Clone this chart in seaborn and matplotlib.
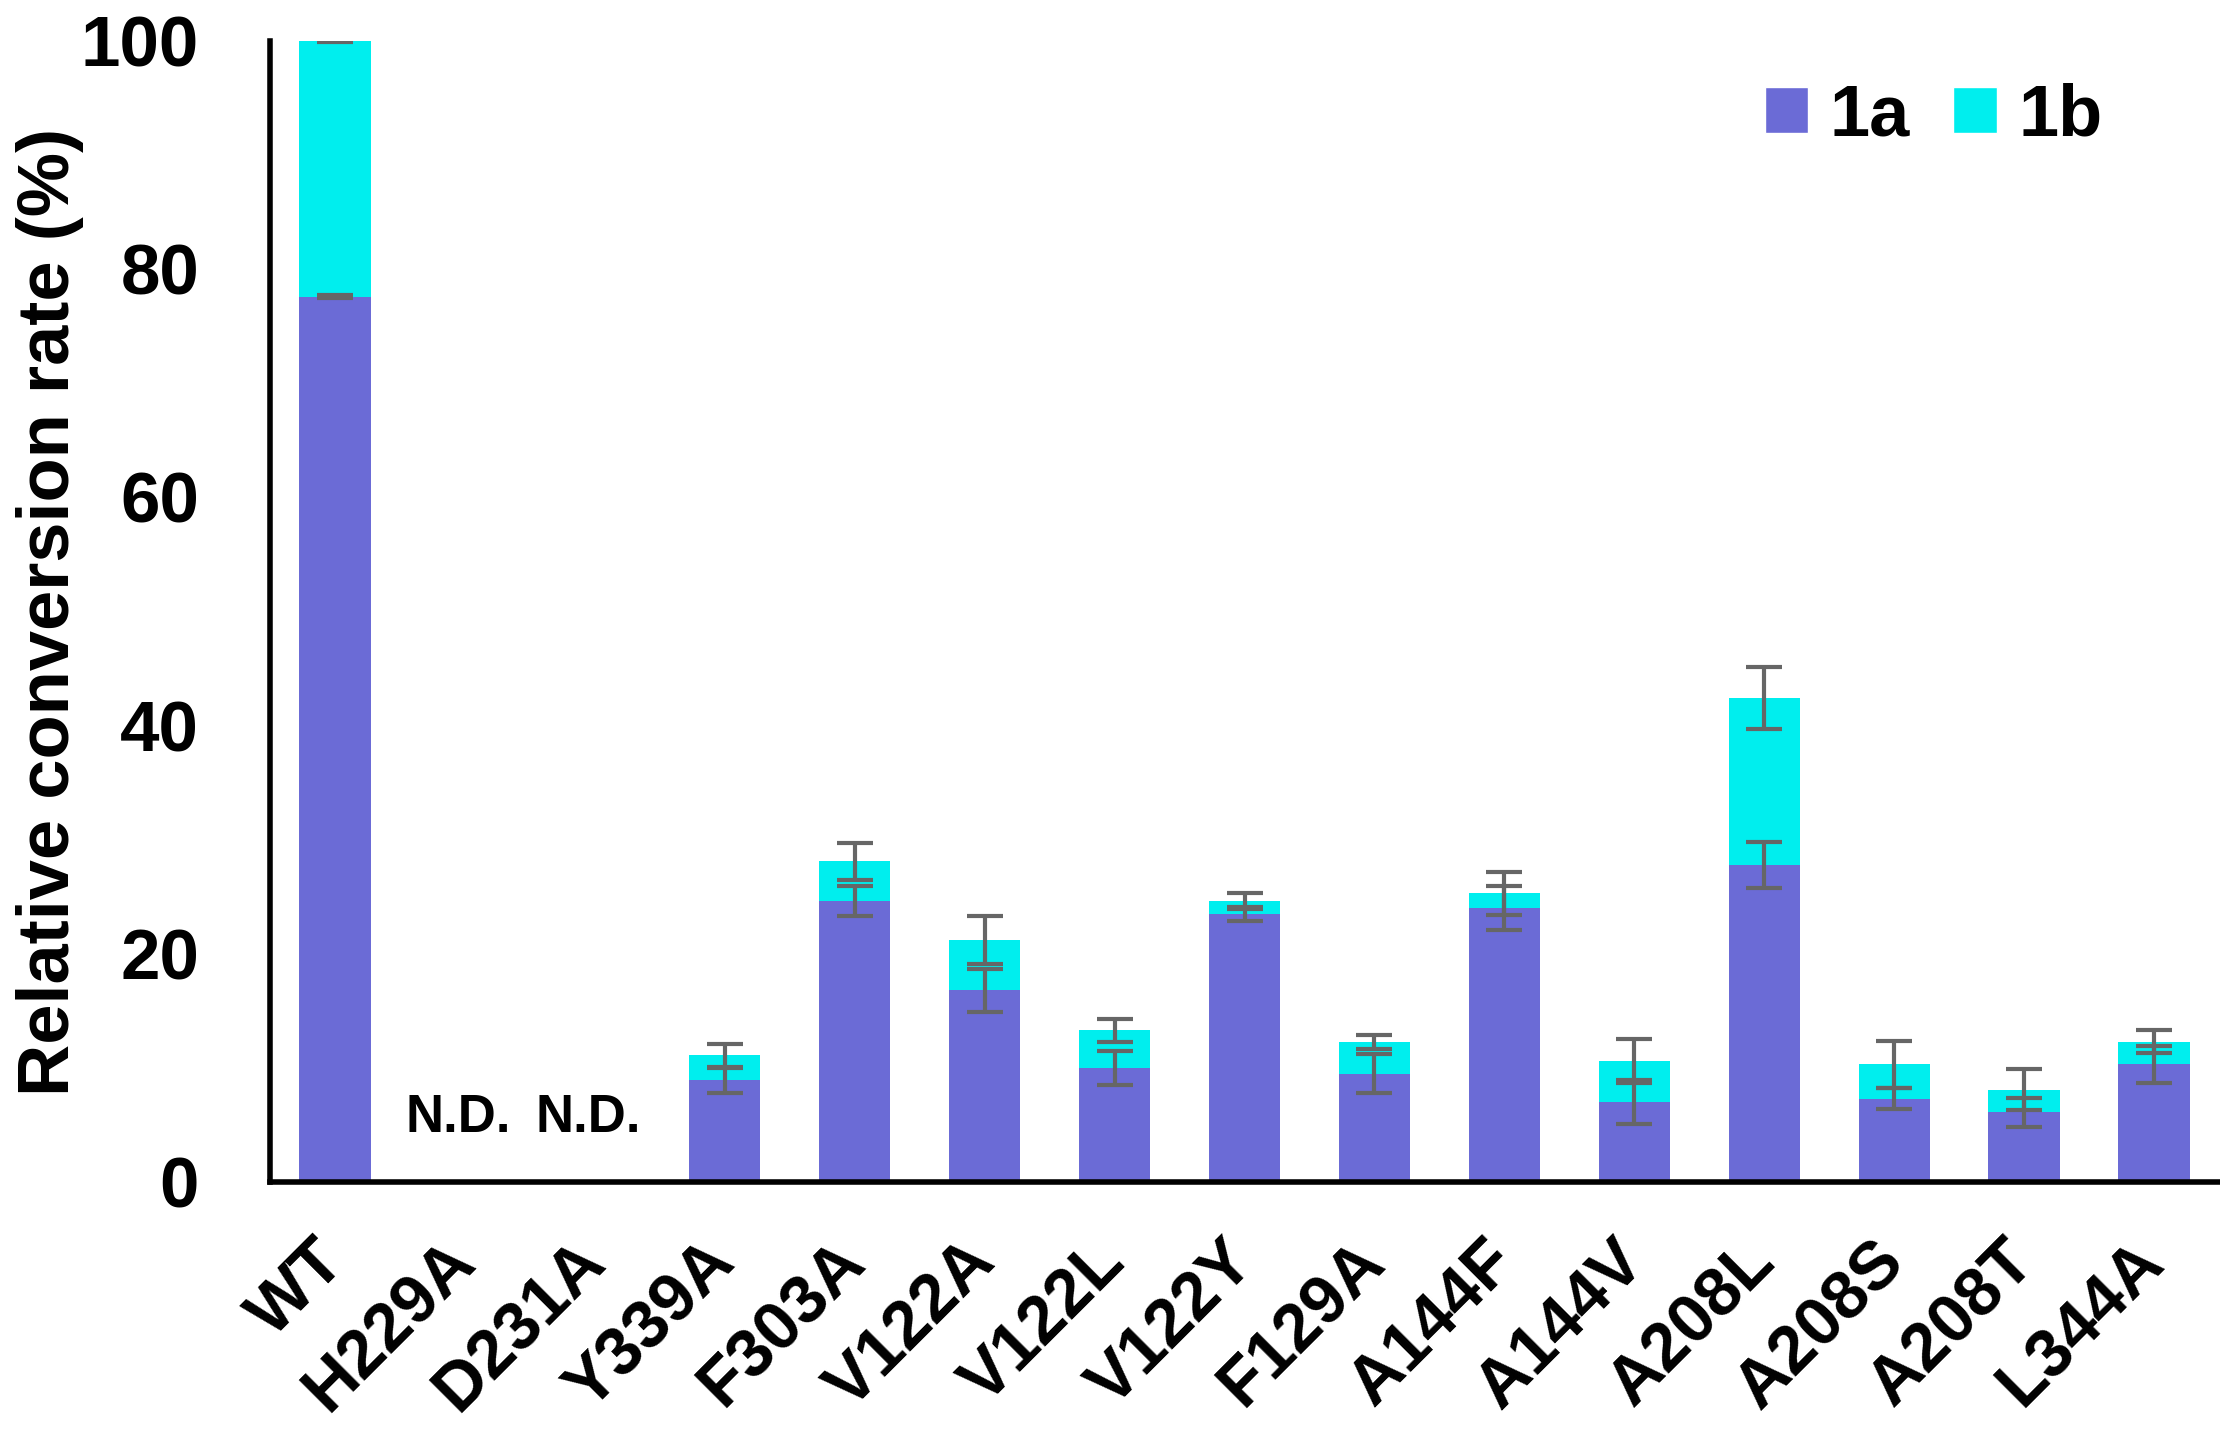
import numpy as np
import pandas as pd
import matplotlib
matplotlib.use("Agg")
import matplotlib.pyplot as plt
import seaborn as sns
from matplotlib.patches import Patch

sns.set_theme(style="white", rc={"text.color": "black", "axes.labelcolor": "black",
                                 "xtick.color": "black", "ytick.color": "black"})
plt.rcParams["font.family"] = ["Liberation Sans", "DejaVu Sans"]
plt.rcParams["font.weight"] = "bold"

# data
mutants = ["WT", "H229A", "D231A", "Y339A", "F303A", "V122A", "V122L", "V122Y",
           "F129A", "A144F", "A144V", "A208L", "A208S", "A208T", "L344A"]
rate_1a = [77.6, np.nan, np.nan, 8.9, 24.6, 16.8, 10.0, 23.5, 9.5, 24.0, 7.0, 27.8, 7.3, 6.1, 10.3]
rate_1b = [22.4, np.nan, np.nan, 2.2, 3.5, 4.4, 3.3, 1.1, 2.8, 1.3, 3.6, 14.6, 3.0, 2.0, 2.0]
err_1a = [0.15, np.nan, np.nan, 1.1, 1.3, 1.9, 1.5, 0.6, 1.7, 1.9, 1.9, 2.0, 0.9, 1.3, 1.6]
err_1b = [0.1, np.nan, np.nan, 1.0, 1.6, 2.1, 1.0, 0.7, 0.6, 1.9, 1.9, 2.7, 2.1, 1.8, 1.0]

c1a = "#6B6BD6"
c1b = "#00EEEE"
cerr = "#666666"

df = pd.DataFrame({"mutant": mutants, "1a": rate_1a, "1b": rate_1b,
                   "err_1a": err_1a, "err_1b": err_1b})
df["total"] = df["1a"] + df["1b"]

fig = plt.figure(figsize=(22.2, 14.35), dpi=100)
ax = fig.add_axes([0.1216, 0.1763, 0.878, 0.7951])

# stacked bars: total (1b on top) first, then 1a over it
sns.barplot(data=df, x="mutant", y="total", color=c1b, saturation=1, width=0.55,
            linewidth=0, ax=ax)
sns.barplot(data=df, x="mutant", y="1a", color=c1a, saturation=1, width=0.55,
            linewidth=0, ax=ax)

xpos = np.arange(len(mutants))
ekw = dict(fmt="none", ecolor=cerr, elinewidth=3, capsize=13, capthick=3, zorder=5)
ax.errorbar(xpos, df["1a"], yerr=df["err_1a"], **ekw)
ax.errorbar(xpos, df["total"], yerr=df["err_1b"], **ekw)

for i, v in enumerate(rate_1a):
    if np.isnan(v):
        ax.text(i - 0.05, 5.6, "N.D.", ha="center", va="center", fontsize=38,
                fontweight="bold")

ax.set_ylim(0, 100)
ax.set_xlim(-0.5, len(mutants) - 0.5)
ax.set_yticks([0, 20, 40, 60, 80, 100])
ax.set_xticks(xpos)
ax.set_xticks(np.arange(-0.5, len(mutants), 1), minor=True)
ax.set_xticklabels(mutants, rotation=45, ha="right", va="center", rotation_mode="anchor",
                   fontsize=49, fontweight="bold")
ax.tick_params(axis="x", which="major", length=0, pad=50)
ax.tick_params(axis="x", which="minor", length=15, width=4, direction="out", color="black")
ax.tick_params(axis="y", length=15, width=4, direction="out", color="black", pad=36,
               labelsize=51)
for lab in ax.get_yticklabels():
    lab.set_fontweight("bold")

for side in ["top", "right"]:
    ax.spines[side].set_visible(False)
for side in ["left", "bottom"]:
    ax.spines[side].set_linewidth(4)
    ax.spines[side].set_color("black")

ax.set_xlabel("")
ax.set_ylabel("Relative conversion rate (%)", fontsize=52, fontweight="bold", va="center")
ax.yaxis.set_label_coords(-0.113, 0.5)

handles = [Patch(facecolor=c1a, label="1a"), Patch(facecolor=c1b, label="1b")]
fig.legend(handles=handles, loc="center", bbox_to_anchor=(0.871, 0.919), ncol=2,
           frameon=False, prop={"size": 52, "weight": "bold"}, handlelength=0.6,
           handleheight=0.6, handletextpad=0.3, columnspacing=0.6)

fig.savefig("out.png", dpi=100, facecolor="white")
